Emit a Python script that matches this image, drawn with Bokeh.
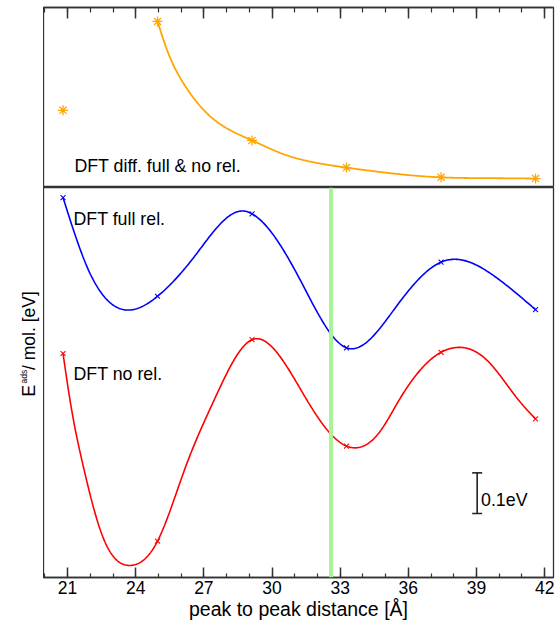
import numpy as np
from bokeh.plotting import figure
from bokeh.models import (Range1d, Span, Label, Whisker, TeeHead, SingleIntervalTicker,
                          CustomJSTickFormatter, ColumnDataSource, Spacer)
from bokeh.layouts import column, row
from bokeh.embed import file_html
from bokeh.resources import INLINE

# ---------------- data ----------------
distance = [20.8, 24.96, 29.12, 33.28, 37.44, 41.6]          # peak to peak distance [Å]
e_diff = [0.190, 0.409, 0.116, 0.049, 0.025, 0.022]         # DFT diff. full & no rel. [eV]
e_full = [0.384, 0.141, 0.344, 0.014, 0.225, 0.108]         # DFT full rel. [eV] (relative)
e_norel = [0.000, -0.462, 0.034, -0.228, 0.003, -0.161]     # DFT no rel. [eV] (relative)

# smooth guide curves drawn in the figure (knots)
diff_curve_x = [24.96, 25.39, 26.12, 27.15, 29.12, 30.37, 31.84, 33.28, 34.78, 37.44, 39.47, 41.6]
diff_curve_y = [0.409, 0.337, 0.255, 0.182, 0.116, 0.085, 0.062, 0.049, 0.038, 0.025, 0.023, 0.022]

full_curve_x = [20.8, 21.9, 23.7, 24.96, 26.6, 28.73, 29.12, 31.25, 33.28, 35.5, 37.44, 38.0, 39.8, 41.6]
full_curve_y = [0.384, 0.208, 0.107, 0.141, 0.240, 0.351, 0.344, 0.180, 0.014, 0.118, 0.225, 0.232,
                0.190, 0.108]

norel_curve_x = [20.8, 21.11, 21.70, 22.50, 23.77, 24.96, 26.19, 27.44, 29.12, 30.37, 31.55, 32.58,
                 33.28, 34.78, 35.58, 37.44, 38.0, 39.47, 40.87, 41.6]
norel_curve_y = [0.000, -0.116, -0.280, -0.444, -0.522, -0.462, -0.280, -0.116, 0.034, -0.009, -0.116,
                 -0.198, -0.228, -0.190, -0.116, 0.003, 0.014, -0.017, -0.116, -0.161]

marked_distance = 32.6
scale_bar_ev = 0.1
scale_bar_x = 39.03
scale_bar_mid = -0.344
x_tick_interval = 3

FONT = "Liberation Sans"
AX = "#333333"
ANN = "17.8px"


def natural_spline(x, y, per=40):
    """Smooth drawing of a line through its knots (natural cubic spline)."""
    x = np.asarray(x, float)
    y = np.asarray(y, float)
    k = len(x)
    h = np.diff(x)
    A = np.zeros((k, k))
    b = np.zeros(k)
    A[0, 0] = A[-1, -1] = 1.0
    for i in range(1, k - 1):
        A[i, i - 1] = h[i - 1]
        A[i, i] = 2 * (h[i - 1] + h[i])
        A[i, i + 1] = h[i]
        b[i] = 3 * ((y[i + 1] - y[i]) / h[i] - (y[i] - y[i - 1]) / h[i - 1])
    c = np.linalg.solve(A, b)
    xs = np.linspace(x[0], x[-1], per * (k - 1) + 1)
    idx = np.clip(np.searchsorted(x, xs) - 1, 0, k - 2)
    dx = xs - x[idx]
    bc = (y[1:] - y[:-1]) / h - h * (2 * c[:-1] + c[1:]) / 3
    dc = (c[1:] - c[:-1]) / (3 * h)
    ys = y[idx] + bc[idx] * dx + c[idx] * dx ** 2 + dc[idx] * dx ** 3
    return xs, ys


PX_PER_EV = 406.0
xr = Range1d(19.94, 42.39)


def style_axis(a, tick_in, minor_in):
    a.ticker = SingleIntervalTicker(interval=x_tick_interval, num_minor_ticks=3)
    a.major_tick_in = tick_in
    a.major_tick_out = 0
    a.minor_tick_in = minor_in
    a.minor_tick_out = 0
    a.axis_line_color = AX
    a.axis_line_width = 1.4
    a.major_tick_line_color = AX
    a.major_tick_line_width = 1.5
    a.minor_tick_line_color = AX
    a.minor_tick_line_width = 1.2


# ---------------- top panel ----------------
top = figure(frame_width=510, frame_height=180, x_range=xr,
             y_range=Range1d(0, 180 / PX_PER_EV),
             x_axis_location="above", y_axis_location=None,
             min_border_left=0, min_border_right=2, min_border_top=7, min_border_bottom=0,
             toolbar_location=None, output_backend="svg", title=None)
top.grid.visible = False
top.outline_line_color = AX
top.outline_line_width = 1.3
ax = top.xaxis[0]
style_axis(ax, 11, 5)
ax.formatter = CustomJSTickFormatter(code="return ''")
ax.major_label_text_font_size = "0px"
ax.major_label_standoff = 0

xs, ys = natural_spline(diff_curve_x, diff_curve_y)
top.line(xs, ys, line_color="#FFA500", line_width=1.8)
top.scatter(distance, e_diff, marker="asterisk", size=10, line_color="#FFA500", line_width=1.3)
top.add_layout(Label(x=21.3, y=0.0525, text="DFT diff. full & no rel.", text_font=FONT,
                     text_font_size=ANN, text_color="black", text_baseline="alphabetic"))

# ---------------- bottom panel ----------------
bot = figure(frame_width=510, frame_height=390, x_range=xr,
             y_range=Range1d(-224 / PX_PER_EV, 166 / PX_PER_EV),
             y_axis_location=None,
             min_border_left=0, min_border_right=2, min_border_top=0, min_border_bottom=46,
             toolbar_location=None, output_backend="svg", title=None)
bot.grid.visible = False
bot.outline_line_color = AX
bot.outline_line_width = 1.3
bx = bot.xaxis[0]
style_axis(bx, 10, 4)
bx.major_label_text_font = FONT
bx.major_label_text_font_size = "17.5px"
bx.major_label_text_color = "black"
bx.major_label_standoff = 3
bx.axis_label = "peak to peak distance [Å]"
bx.axis_label_text_font = FONT
bx.axis_label_text_font_size = "19.5px"
bx.axis_label_text_font_style = "normal"
bx.axis_label_text_color = "black"
bx.axis_label_standoff = 1

bot.add_layout(Span(location=marked_distance, dimension="height", line_color="#A8F29A", line_width=4))

xs, ys = natural_spline(full_curve_x, full_curve_y)
bot.line(xs, ys, line_color="#0000FF", line_width=1.6)
bot.scatter(distance, e_full, marker="x", size=7, line_color="#0000FF", line_width=1.1)
xs, ys = natural_spline(norel_curve_x, norel_curve_y)
bot.line(xs, ys, line_color="#FF0000", line_width=1.6)
bot.scatter(distance, e_norel, marker="x", size=7, line_color="#FF0000", line_width=1.1)

bot.add_layout(Label(x=21.26, y=0.332, text="DFT full rel.", text_font=FONT,
                     text_font_size=ANN, text_color="black", text_baseline="alphabetic"))
bot.add_layout(Label(x=21.26, y=-0.0517, text="DFT no rel.", text_font=FONT,
                     text_font_size=ANN, text_color="black", text_baseline="alphabetic"))

# scale bar 0.1 eV
sb = ColumnDataSource(dict(base=[scale_bar_x],
                           lower=[scale_bar_mid - scale_bar_ev / 2],
                           upper=[scale_bar_mid + scale_bar_ev / 2]))
bot.add_layout(Whisker(source=sb, base="base", lower="lower", upper="upper", dimension="height",
                       line_color="#222222", line_width=1.6,
                       lower_head=TeeHead(size=10, line_color="#222222", line_width=1.6),
                       upper_head=TeeHead(size=10, line_color="#222222", line_width=1.6)))
bot.add_layout(Label(x=39.2, y=scale_bar_mid - 0.0163, text="0.1eV", text_font=FONT,
                     text_font_size=ANN, text_color="black", text_baseline="alphabetic"))

# ---------------- y-axis title strip:  E_ads / mol. [eV] ----------------
ylab = figure(width=43, height=436, x_range=Range1d(0, 43), y_range=Range1d(623, 187),
              x_axis_location=None, y_axis_location=None,
              min_border_left=0, min_border_right=0, min_border_top=0, min_border_bottom=0,
              toolbar_location=None, output_backend="svg", title=None)
ylab.grid.visible = False
ylab.outline_line_color = None
rot = np.pi / 2
ylab.add_layout(Label(x=28, y=421, angle=rot, text="E",
                      text_font=FONT, text_font_size="18px", text_color="black",
                      text_baseline="alphabetic", text_align="left"))
ylab.add_layout(Label(x=23.5, y=406, angle=rot, text="ads",
                      text_font=FONT, text_font_size="8.5px", text_color="black",
                      text_baseline="alphabetic", text_align="left"))
ylab.add_layout(Label(x=28, y=391, angle=rot, text="/ mol. [eV]",
                      text_font=FONT, text_font_size="17.5px", text_color="black",
                      text_baseline="alphabetic", text_align="left"))

layout = column(row(Spacer(width=43, height=187), top, spacing=0),
                row(ylab, bot, spacing=0), spacing=0)
open("out.html", "w").write(file_html(layout, INLINE))
